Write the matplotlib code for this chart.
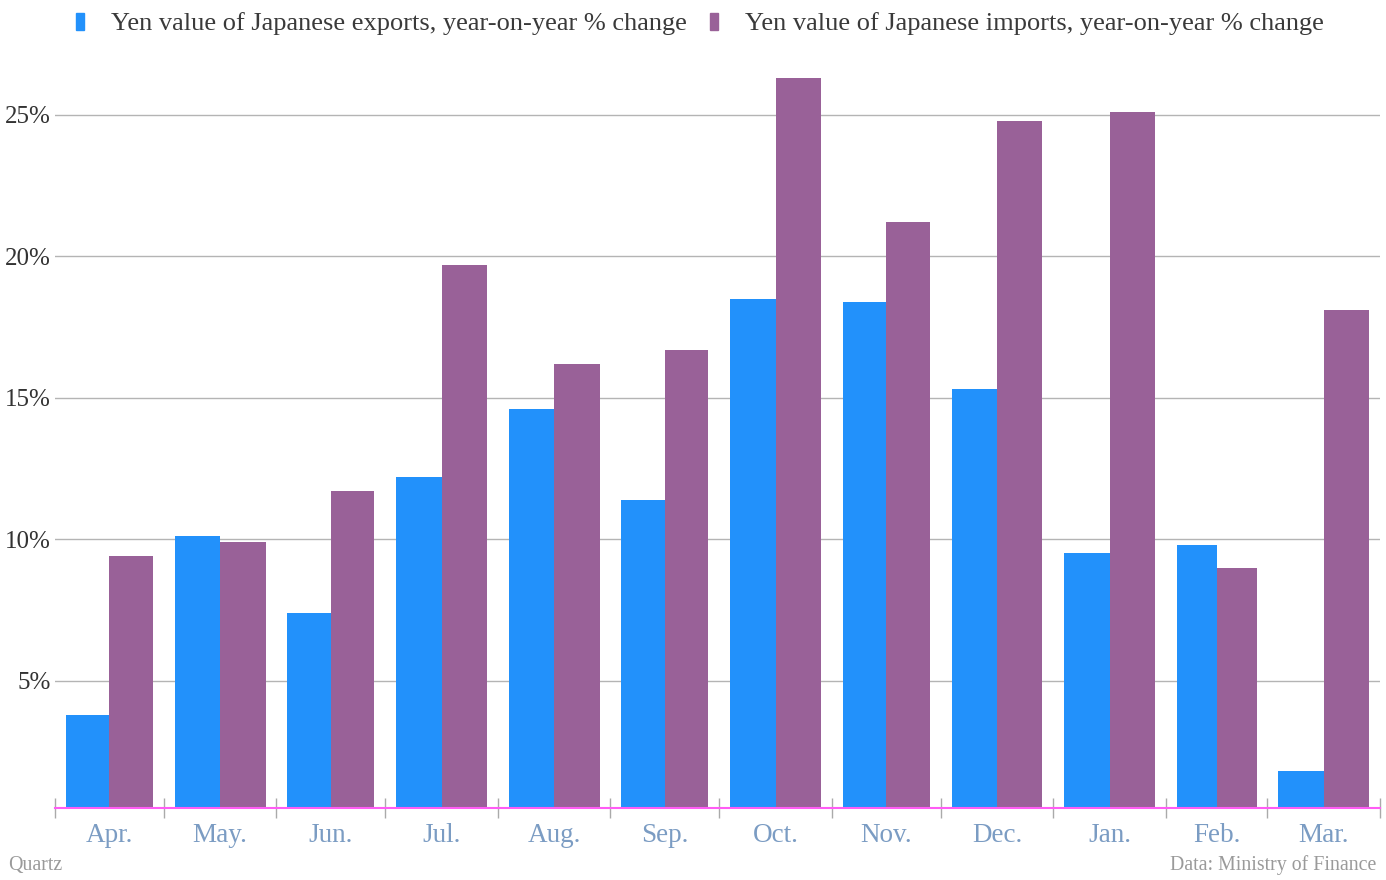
import datetime as dt
import matplotlib.pyplot as plt
import matplotlib.dates as mdates
from matplotlib.patches import Patch

months = ["Apr.", "May.", "Jun.", "Jul.", "Aug.", "Sep.",
          "Oct.", "Nov.", "Dec.", "Jan.", "Feb.", "Mar."]
month_starts = [(2013, 4), (2013, 5), (2013, 6), (2013, 7), (2013, 8), (2013, 9),
                (2013, 10), (2013, 11), (2013, 12), (2014, 1), (2014, 2), (2014, 3),
                (2014, 4)]
exports = [3.8, 10.1, 7.4, 12.2, 14.6, 11.4, 18.5, 18.4, 15.3, 9.5, 9.8, 1.8]
imports = [9.4, 9.9, 11.7, 19.7, 16.2, 16.7, 26.3, 21.2, 24.8, 25.1, 9.0, 18.1]
yticks = [5, 10, 15, 20, 25]

blue = "#2291fb"
purple = "#996198"
serif = ["Liberation Serif", "DejaVu Serif"]
plt.rcParams["font.family"] = serif

edges = [mdates.date2num(dt.date(y, m, 1)) for y, m in month_starts]
starts = edges[:-1]
ndays = [b - a for a, b in zip(edges[:-1], edges[1:])]
pad = 3.0
half = [(n - 2 * pad) / 2 for n in ndays]
left_exp = [s + pad for s in starts]
left_imp = [s + pad + h for s, h in zip(starts, half)]
mids = [s + n / 2 for s, n in zip(starts, ndays)]

fig = plt.figure(figsize=(13.86, 8.8), dpi=100)
ax = fig.add_axes([55 / 1386, 72 / 880, 1325 / 1386, 768 / 880])

ax.bar(left_exp, exports, width=half, align="edge", color=blue, zorder=2)
ax.bar(left_imp, imports, width=half, align="edge", color=purple, zorder=2)

ax.set_xlim(edges[0], edges[-1])
ax.set_ylim(0.5, 27.65)

ax.set_yticks(yticks)
ax.set_yticklabels([f"{v}%" for v in yticks])
ax.tick_params(axis="y", length=0, pad=3, labelsize=18, labelcolor="#333333")
ax.yaxis.grid(True, color="#b4b4b4", linewidth=1)
ax.set_axisbelow(True)

ax.set_xticks(edges)
ax.set_xticklabels([])
ax.set_xticks(mids, minor=True)
ax.set_xticklabels(months, minor=True)
ax.tick_params(axis="x", which="major", direction="inout", length=15,
               color="#aaaaaa", width=1)
ax.tick_params(axis="x", which="minor", length=0, pad=11, labelsize=19.5,
               labelcolor="#7b9cc3")

for s in ["top", "right", "left"]:
    ax.spines[s].set_visible(False)
ax.spines["bottom"].set_color("#ff5cf5")
ax.spines["bottom"].set_linewidth(1.5)

handles = [Patch(color=blue), Patch(color=purple)]
labels = ["Yen value of Japanese exports, year-on-year % change",
          "Yen value of Japanese imports, year-on-year % change"]
fig.legend(handles, labels, loc="upper left", bbox_to_anchor=(58 / 1386, 1.0 + 6 / 880),
           ncol=2, frameon=False, handlelength=0.3, handleheight=0.6,
           handletextpad=1.0, columnspacing=0.9, fontsize=19,
           labelcolor="#3a3a3a", borderaxespad=0.3)

fig.text(8 / 1386, 10 / 880, "Quartz", fontsize=14.3, color="#9a9a9a")
fig.text(1376 / 1386, 10 / 880, "Data: Ministry of Finance", fontsize=14.3,
         color="#9a9a9a", ha="right")

fig.savefig("out.png", dpi=100)
